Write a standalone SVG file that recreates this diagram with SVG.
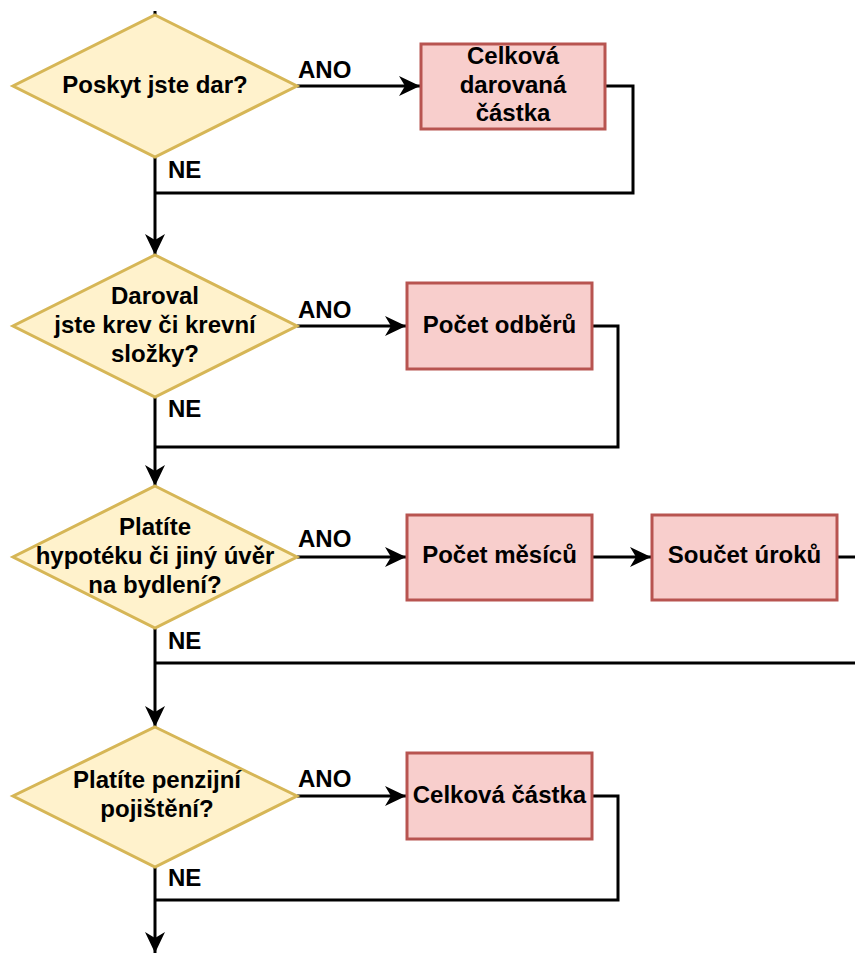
<svg xmlns="http://www.w3.org/2000/svg" width="855" height="953" viewBox="0 0 855 953">
<style>
.dia{fill:#fff2cc;stroke:#d6b656;stroke-width:3}
.box{fill:#f8cecc;stroke:#b85450;stroke-width:3}
.t{font-family:"Liberation Sans",Arial,sans-serif;font-weight:bold;font-size:24px;fill:#000;text-anchor:middle}
.lbl{font-family:"Liberation Sans",Arial,sans-serif;font-weight:bold;font-size:24px;fill:#000}
.c{fill:none;stroke:#000;stroke-width:3}
.a{marker-end:url(#arr)}
</style>
<defs>
<marker id="arr" markerUnits="userSpaceOnUse" markerWidth="24" markerHeight="24" viewBox="-22 -11 24 22" refX="0" refY="0" orient="auto" overflow="visible">
<path d="M0,0 L-21,-10 L-15,0 L-21,10 Z" fill="#000"/>
</marker>
</defs>
<g id="connectors">
<line class="c" x1="155" y1="11" x2="155" y2="15"/>
<line class="c a" x1="297" y1="86" x2="420" y2="86"/>
<polyline class="c" points="606,86 633,86 633,193 155,193"/>
<line class="c a" x1="155" y1="157" x2="155" y2="255"/>
<line class="c a" x1="297" y1="326" x2="406" y2="326"/>
<polyline class="c" points="593,326 618,326 618,447 155,447"/>
<line class="c a" x1="155" y1="397" x2="155" y2="486"/>
<line class="c a" x1="297" y1="557" x2="406" y2="557"/>
<line class="c a" x1="593" y1="557" x2="651" y2="557"/>
<line class="c" x1="838" y1="557" x2="855" y2="557"/>
<line class="c" x1="155" y1="663" x2="855" y2="663"/>
<line class="c a" x1="155" y1="628" x2="155" y2="727"/>
<line class="c a" x1="297" y1="796" x2="406" y2="796"/>
<polyline class="c" points="593,796 618,796 618,900 155,900"/>
<line class="c a" x1="155" y1="867" x2="155" y2="953"/>
<text class="lbl" x="298" y="78">ANO</text>
<text class="lbl" x="168" y="178">NE</text>
<text class="lbl" x="298" y="318">ANO</text>
<text class="lbl" x="168" y="417">NE</text>
<text class="lbl" x="298" y="547">ANO</text>
<text class="lbl" x="168" y="649">NE</text>
<text class="lbl" x="298" y="787">ANO</text>
<text class="lbl" x="168" y="886">NE</text>
</g>
<g id="d1">
<polygon class="dia" points="155,15 297,86 155,157 13,86"/>
<text class="t" x="155" y="93">Poskyt jste dar?</text>
</g>
<g id="b1">
<rect class="box" x="421" y="44" width="184" height="85"/>
<text class="t" x="513" y="64">Celková</text>
<text class="t" x="513" y="93">darovaná</text>
<text class="t" x="513" y="121">částka</text>
</g>
<g id="d2">
<polygon class="dia" points="155,255 297,326 155,397 13,326"/>
<text class="t" x="155" y="304">Daroval</text>
<text class="t" x="155" y="333">jste krev či krevní</text>
<text class="t" x="155" y="362">složky?</text>
</g>
<g id="b2">
<rect class="box" x="407" y="283" width="185" height="86"/>
<text class="t" x="499.5" y="333">Počet odběrů</text>
</g>
<g id="d3">
<polygon class="dia" points="155,486 297,557 155,628 13,557"/>
<text class="t" x="155" y="535">Platíte</text>
<text class="t" x="155" y="564">hypotéku či jiný úvěr</text>
<text class="t" x="155" y="593">na bydlení?</text>
</g>
<g id="b3">
<rect class="box" x="407" y="515" width="185" height="85"/>
<text class="t" x="499.5" y="563">Počet měsíců</text>
</g>
<g id="b4">
<rect class="box" x="652" y="515" width="185" height="85"/>
<text class="t" x="744.5" y="563">Součet úroků</text>
</g>
<g id="d4">
<polygon class="dia" points="155,727 297,796 155,867 13,796"/>
<text class="t" x="157" y="788">Platíte penzijní</text>
<text class="t" x="157" y="817">pojištění?</text>
</g>
<g id="b5">
<rect class="box" x="407" y="753" width="185" height="86"/>
<text class="t" x="499.5" y="803">Celková částka</text>
</g>
</svg>
